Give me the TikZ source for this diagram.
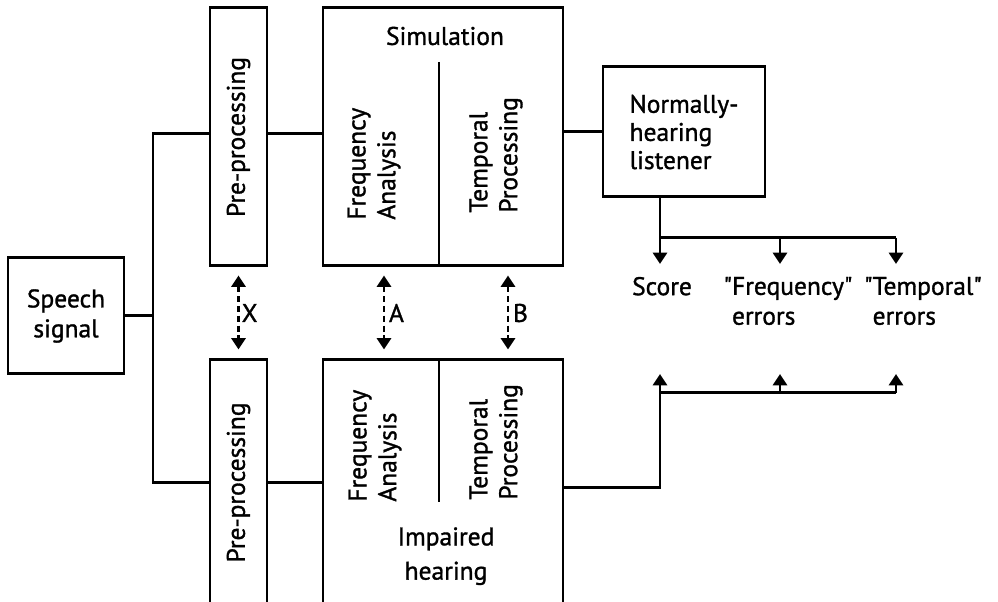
\documentclass[tikz,border=0pt]{standalone}
\usepackage{fontspec}
\setmainfont{PT Sans}[FakeBold=1.2,Ligatures=TeXOff]
\usepackage{graphicx}
\usetikzlibrary{arrows.meta}

\begin{document}
\begin{tikzpicture}
\tikzset{every node/.style={font=\fontsize{14.5}{17}\selectfont}}
\tikzset{block/.style={draw,line width=1.7pt,inner sep=0pt,align=center}}
\tikzset{wire/.style={line width=1.7pt}}
\tikzset{tip/.style={wire,-{Triangle[length=6.5pt,width=8pt]}}}
\tikzset{link/.style={wire,dash pattern=on 3.4pt off 2.2pt,
  {Triangle[length=6.5pt,width=8pt]}-{Triangle[length=6.5pt,width=8pt]},
  shorten <=0.16cm,shorten >=0.18cm}}
\tikzset{vlabel/.style={rotate=90,anchor=west,align=left,inner sep=0pt}}
\tikzset{outcome/.style={anchor=north,align=left,inner sep=0pt,outer sep=0.26cm}}
\useasboundingbox (0,0) rectangle (19.96,12.04);
\node[block,minimum width=2.32cm,minimum height=2.32cm] (speech) at (1.32,5.72) {Speech\\signal};
\node[block,minimum width=1.14cm,minimum height=5.16cm] (preA) at (4.77,9.30) {\rotatebox{90}{Pre-processing}};
\node[block,minimum width=1.14cm,minimum height=4.9cm] (preB) at (4.77,2.39) {\rotatebox{90}{Pre-processing}};
\node[block,minimum width=4.8cm,minimum height=5.16cm] (sim) at (8.86,9.30) {};
\node[block,minimum width=4.8cm,minimum height=4.9cm] (imp) at (8.86,2.39) {};
\node[block,minimum width=3.24cm,minimum height=2.6cm,align=left,font=\fontsize{14.5}{16}\selectfont] (listener) at (13.68,9.4) {Normally-\\hearing\\listener};
% inside the simulation
\node (simLabel) at (8.9,11.32) {Simulation};
\coordinate (simDiv) at (8.78,10.8);
\draw[wire] (simDiv) -- (simDiv |- sim.south);
\node[vlabel] (simFreq) at (7.48,7.64) {Frequency\\Analysis};
\node[vlabel] (simTemp) at (9.92,7.78) {Temporal\\Processing};
% inside the impaired ear
\coordinate (impDiv) at (8.78,2.0);
\draw[wire] (impDiv) -- (impDiv |- imp.north);
\node[vlabel] (impFreq) at (7.5,2.0) {Frequency\\Analysis};
\node[vlabel] (impTemp) at (9.92,2.04) {Temporal\\Processing};
\node[anchor=north,align=center,inner sep=0pt,font=\fontsize{14.5}{19.5}\selectfont] (impLabel) at (8.92,1.5) {Impaired\\hearing};
% signal paths
\coordinate (busT) at (3.06,9.36);
\coordinate (busB) at (3.06,2.38);
\draw[wire] (speech.east) -- (speech.east -| busT);
\draw[wire] (busT -| preA.west) -- (busT) -- (busB) -- (busB -| preB.west);
\draw[wire] (busT -| preA.east) -- (busT -| sim.west);
\draw[wire] (busB -| preB.east) -- (busB -| imp.west);
\draw[wire] (listener.west -| sim.east) -- (listener.west);
% comparisons
\draw[link] (preA.south) -- (preB.north) node[midway,right,inner sep=1pt] (xLab) {X};
\draw[link] ([xshift=-1.18cm]sim.south) -- ([xshift=-1.18cm]imp.north) node[midway,right,inner sep=2pt] (aLab) {A};
\draw[link] ([xshift=1.3cm]sim.south) -- ([xshift=1.3cm]imp.north) node[midway,right,inner sep=2pt] (bLab) {B};
% results
\node[outcome] (score) at (13.24,6.76) {Score};
\node[outcome] (freq) at (15.76,6.76) {"Frequency"\\\hphantom{"}errors};
\node[outcome] (temp) at (18.46,6.76) {"Temporal"\\\hphantom{"}errors};
\coordinate (upS) at (13.2,7.28);
\coordinate (upF) at (15.6,7.28);
\coordinate (upT) at (17.92,7.28);
\draw[wire] (upS |- listener.south) -- (upS) -- (upT);
\foreach \c/\n in {upS/score,upF/freq,upT/temp}
  \draw[tip] (\c) -- (\c |- \n.north);
\coordinate (bend) at (13.2,2.28);
\coordinate (loS) at (13.2,4.18);
\coordinate (loF) at (15.6,4.18);
\coordinate (loT) at (17.92,4.18);
\coordinate (reach) at (0,4.56);
\draw[wire] (bend -| imp.east) -- (bend) -- (loS) -- (loT);
\foreach \c in {loS,loF,loT}
  \draw[tip] (\c) -- (\c |- reach);
\end{tikzpicture}
\end{document}
